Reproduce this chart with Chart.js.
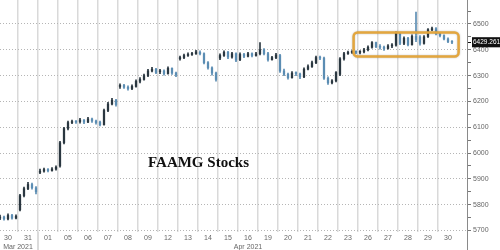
<!DOCTYPE html>
<html><head><meta charset="utf-8">
<script src="https://cdn.jsdelivr.net/npm/chart.js@4.4.1/dist/chart.umd.min.js"></script>
<style>
html,body{margin:0;padding:0;background:#fff;}
#wrap{position:relative;width:500px;height:250px;}
#title{position:absolute;left:148px;top:155px;font:bold 15px 'Liberation Serif','Times New Roman',serif;line-height:15px;color:#111;white-space:nowrap;}
</style></head><body>
<div id="wrap"><canvas id="c" width="500" height="250"></canvas><div id="title">FAAMG Stocks</div></div>
<script>
// ---- data ----
const dayLabels = ['30','31','01','05','06','07','08','09','12','13','14','15','16','19','20','21','22','23','26','27','28','29','30'];
const monthSpans = [['Mar 2021', 2], ['Apr 2021', 21]]; // label, number of trading days
const dayOpens = [5748,5780,5925,5950,6122,6120,6258,6278,6315,6365,6390,6368,6362,6385,6378,6306,6370,6305,6390,6414,6460,6450,6462];
const closes = [
  [5752,5745,5758,5748,5755],
  [5835,5862,5878,5865,5850],
  [5930,5936,5932,5938,5945],
  [6040,6095,6118,6122,6120],
  [6128,6120,6132,6124,6118],
  [6110,6165,6190,6205,6188],
  [6262,6255,6250,6258,6278],
  [6285,6300,6318,6325,6312],
  [6318,6308,6328,6310,6302],
  [6370,6378,6382,6385,6392],
  [6385,6350,6330,6310,6285],
  [6378,6390,6372,6385,6360],
  [6382,6375,6385,6378,6384],
  [6400,6385,6362,6370,6380],
  [6318,6305,6292,6310,6308],
  [6295,6325,6335,6350,6370],
  [6368,6290,6272,6280,6312],
  [6365,6385,6390,6392,6390],
  [6392,6400,6410,6428,6412],
  [6410,6405,6415,6418,6465],
  [6425,6445,6420,6452,6440],
  [6425,6450,6478,6482,6462],
  [6455,6442,6432,6429.2617]
];
const highs = [
  [5760,5756,5764,5762,5761],
  [5840,5868,5886,5884,5870],
  [5938,5942,5940,5944,5950],
  [6045,6100,6124,6128,6126],
  [6134,6130,6138,6135,6128],
  [6124,6170,6196,6212,6208],
  [6268,6266,6260,6264,6284],
  [6292,6306,6324,6332,6328],
  [6324,6322,6334,6330,6314],
  [6376,6383,6388,6390,6398],
  [6396,6388,6354,6334,6314],
  [6384,6396,6394,6390,6388],
  [6388,6386,6390,6388,6390],
  [6428,6405,6390,6375,6386],
  [6382,6325,6310,6316,6315],
  [6310,6330,6342,6356,6376],
  [6376,6372,6295,6285,6316],
  [6370,6390,6395,6397,6396],
  [6397,6406,6415,6432,6430],
  [6420,6414,6420,6424,6470],
  [6466,6450,6448,6458,6546],
  [6455,6455,6482,6488,6486],
  [6466,6458,6446,6436]
];
const lows = [
  [5742,5740,5741,5744,5745],
  [5776,5830,5858,5860,5842],
  [5920,5926,5927,5930,5934],
  [5945,6035,6090,6114,6115],
  [6116,6114,6118,6119,6112],
  [6105,6108,6160,6186,6182],
  [6250,6250,6244,6246,6255],
  [6272,6282,6296,6314,6308],
  [6308,6302,6306,6305,6296],
  [6360,6366,6374,6378,6382],
  [6380,6345,6325,6302,6278],
  [6362,6374,6366,6368,6354],
  [6358,6370,6372,6372,6375],
  [6380,6380,6356,6360,6366],
  [6312,6300,6286,6290,6300],
  [6288,6292,6322,6332,6346],
  [6362,6285,6266,6268,6276],
  [6300,6360,6382,6386,6385],
  [6384,6388,6396,6406,6408],
  [6402,6398,6402,6408,6414],
  [6420,6420,6415,6418,6432],
  [6418,6422,6448,6474,6458],
  [6450,6438,6428,6424]
];
const yMajorTicks = [5700,5800,5900,6000,6100,6200,6300,6400,6500];
const yMinorTicks = [5750,5850,5950,6050,6150,6250,6350,6450,6550];
const lastPrice = 6429.2617;
const lastPriceLabel = '6429.2617';
const highlightDays = [17.78, 23.03];     // Apr 26 – Apr 30 window
const highlightRange = [6374, 6467];

// ---- build candles ----
const BARS_PER_DAY = 5;
const bodies = [], wicks = [], colors = [];
dayOpens.forEach((op, d) => {
  let prev = op;
  closes[d].forEach((c, j) => {
    const xv = d + (j + 0.5) / BARS_PER_DAY;
    bodies.push({x: xv, y: [prev, c]});
    wicks.push({x: xv, y: [lows[d][j], highs[d][j]]});
    colors.push(c >= prev ? '#2a3740' : '#5b8db3');
    prev = c;
  });
});

// bottom labels: day numbers at day centres, month names centred on their span (second line)
const labelTicks = dayLabels.map((lab, i) => ({value: i + 0.5, lines: [lab, '']}));
let start = 0;
monthSpans.forEach(([lab, n]) => {
  const centre = start + n / 2;
  const hit = labelTicks.find(t => t.value === centre);
  if (hit) hit.lines[1] = lab; else labelTicks.push({value: centre, lines: ['', lab]});
  start += n;
});
labelTicks.sort((a, b) => a.value - b.value);
const monthBoundary = monthSpans[0][1];

const axisFont = {family: "'Liberation Sans Narrow','Liberation Sans',Arial,sans-serif", size: 7, lineHeight: 1.25};
const noPad = s => { s.paddingLeft = 0; s.paddingRight = 0; s.paddingTop = 0; s.paddingBottom = 0; };

const overlay = {
  id: 'overlay',
  afterDatasetsDraw(chart) {
    const {ctx, scales: {x, y}} = chart;
    const l = x.getPixelForValue(highlightDays[0]), r = x.getPixelForValue(highlightDays[1]);
    const t = y.getPixelForValue(highlightRange[1]), b = y.getPixelForValue(highlightRange[0]);
    ctx.save();
    ctx.strokeStyle = '#e3a63e';
    ctx.lineWidth = 2.5;
    ctx.shadowColor = 'rgba(0,0,0,0.25)';
    ctx.shadowBlur = 2;
    ctx.beginPath();
    ctx.roundRect(l, t, r - l, b - t, 4);
    ctx.stroke();
    ctx.restore();
  },
  afterDraw(chart) {
    const {ctx, scales: {x}, chartArea} = chart;
    const px = x.getPixelForValue(monthBoundary);
    ctx.save();
    ctx.strokeStyle = '#cfcfcf';
    ctx.lineWidth = 1.5;
    ctx.beginPath();
    ctx.moveTo(px, chartArea.bottom);
    ctx.lineTo(px, chart.height);
    ctx.stroke();
    ctx.strokeStyle = '#8a8a8a';
    ctx.lineWidth = 1;
    ctx.beginPath();
    ctx.moveTo(chartArea.right + 0.5, 0);
    ctx.lineTo(chartArea.right + 0.5, chartArea.bottom + 18);
    ctx.stroke();
    ctx.restore();
  }
};

new Chart(document.getElementById('c'), {
  type: 'bar',
  data: {
    datasets: [
      {label: 'wick', data: wicks, backgroundColor: colors, barThickness: 1, grouped: false, xAxisID: 'x', yAxisID: 'y', order: 2},
      {label: 'body', data: bodies, backgroundColor: colors, barThickness: 1.6, minBarLength: 1, grouped: false, xAxisID: 'x', yAxisID: 'y', order: 1}
    ]
  },
  options: {
    responsive: false,
    animation: false,
    layout: {padding: 0, autoPadding: false},
    plugins: {legend: {display: false}, tooltip: {enabled: false}},
    scales: {
      x: {
        type: 'linear', position: 'bottom', weight: 0, offset: false,
        min: 0.1, max: dayLabels.length + 0.45,
        afterBuildTicks: s => { s.ticks = dayLabels.slice(1).map((_, i) => ({value: i + 1})); },
        ticks: {display: false},
        grid: {color: '#d9d9d9', lineWidth: 1.5, drawTicks: false, offset: false},
        border: {display: false},
        afterFit: s => { s.height = 0; noPad(s); }
      },
      xl: {
        type: 'linear', position: 'bottom', weight: 1, offset: false,
        min: 0.1, max: dayLabels.length + 0.45,
        afterBuildTicks: s => { s.ticks = labelTicks.map(t => ({value: t.value})); },
        ticks: {autoSkip: false, maxRotation: 0, font: axisFont, color: '#666', padding: 2,
          callback: v => (labelTicks.find(t => t.value === v) || {lines: ['']}).lines},
        grid: {display: false, drawTicks: false, tickLength: 0, offset: false},
        border: {display: false},
        afterFit: s => { s.height = 18; noPad(s); }
      },
      y: {
        type: 'linear', position: 'right',
        min: 5694, max: 6593,
        afterBuildTicks: s => {
          s.ticks = [...yMajorTicks, ...yMinorTicks, lastPrice].sort((a, b) => a - b).map(v => ({value: v}));
        },
        ticks: {
          autoSkip: false, padding: 2,
          font: c => c.tick && c.tick.value === lastPrice ? {...axisFont, size: 6.5} : axisFont,
          color: c => c.tick.value === lastPrice ? '#ffffff' : '#666',
          showLabelBackdrop: c => c.tick.value === lastPrice,
          backdropColor: '#111',
          backdropPadding: {top: 1, bottom: 1, left: 1, right: 1},
          callback: v => v === lastPrice ? lastPriceLabel : (yMajorTicks.includes(v) ? String(v) : '')
        },
        grid: {
          color: c => yMajorTicks.includes(c.tick.value) ? '#b5b5b5' : 'transparent',
          tickColor: c => c.tick.value === lastPrice ? '#111' : '#777',
          tickLength: 4, lineWidth: 1
        },
        border: {display: false, dash: [1, 2]},
        afterFit: s => { s.width = 33; noPad(s); }
      }
    }
  },
  plugins: [overlay]
});
</script>
</body></html>
